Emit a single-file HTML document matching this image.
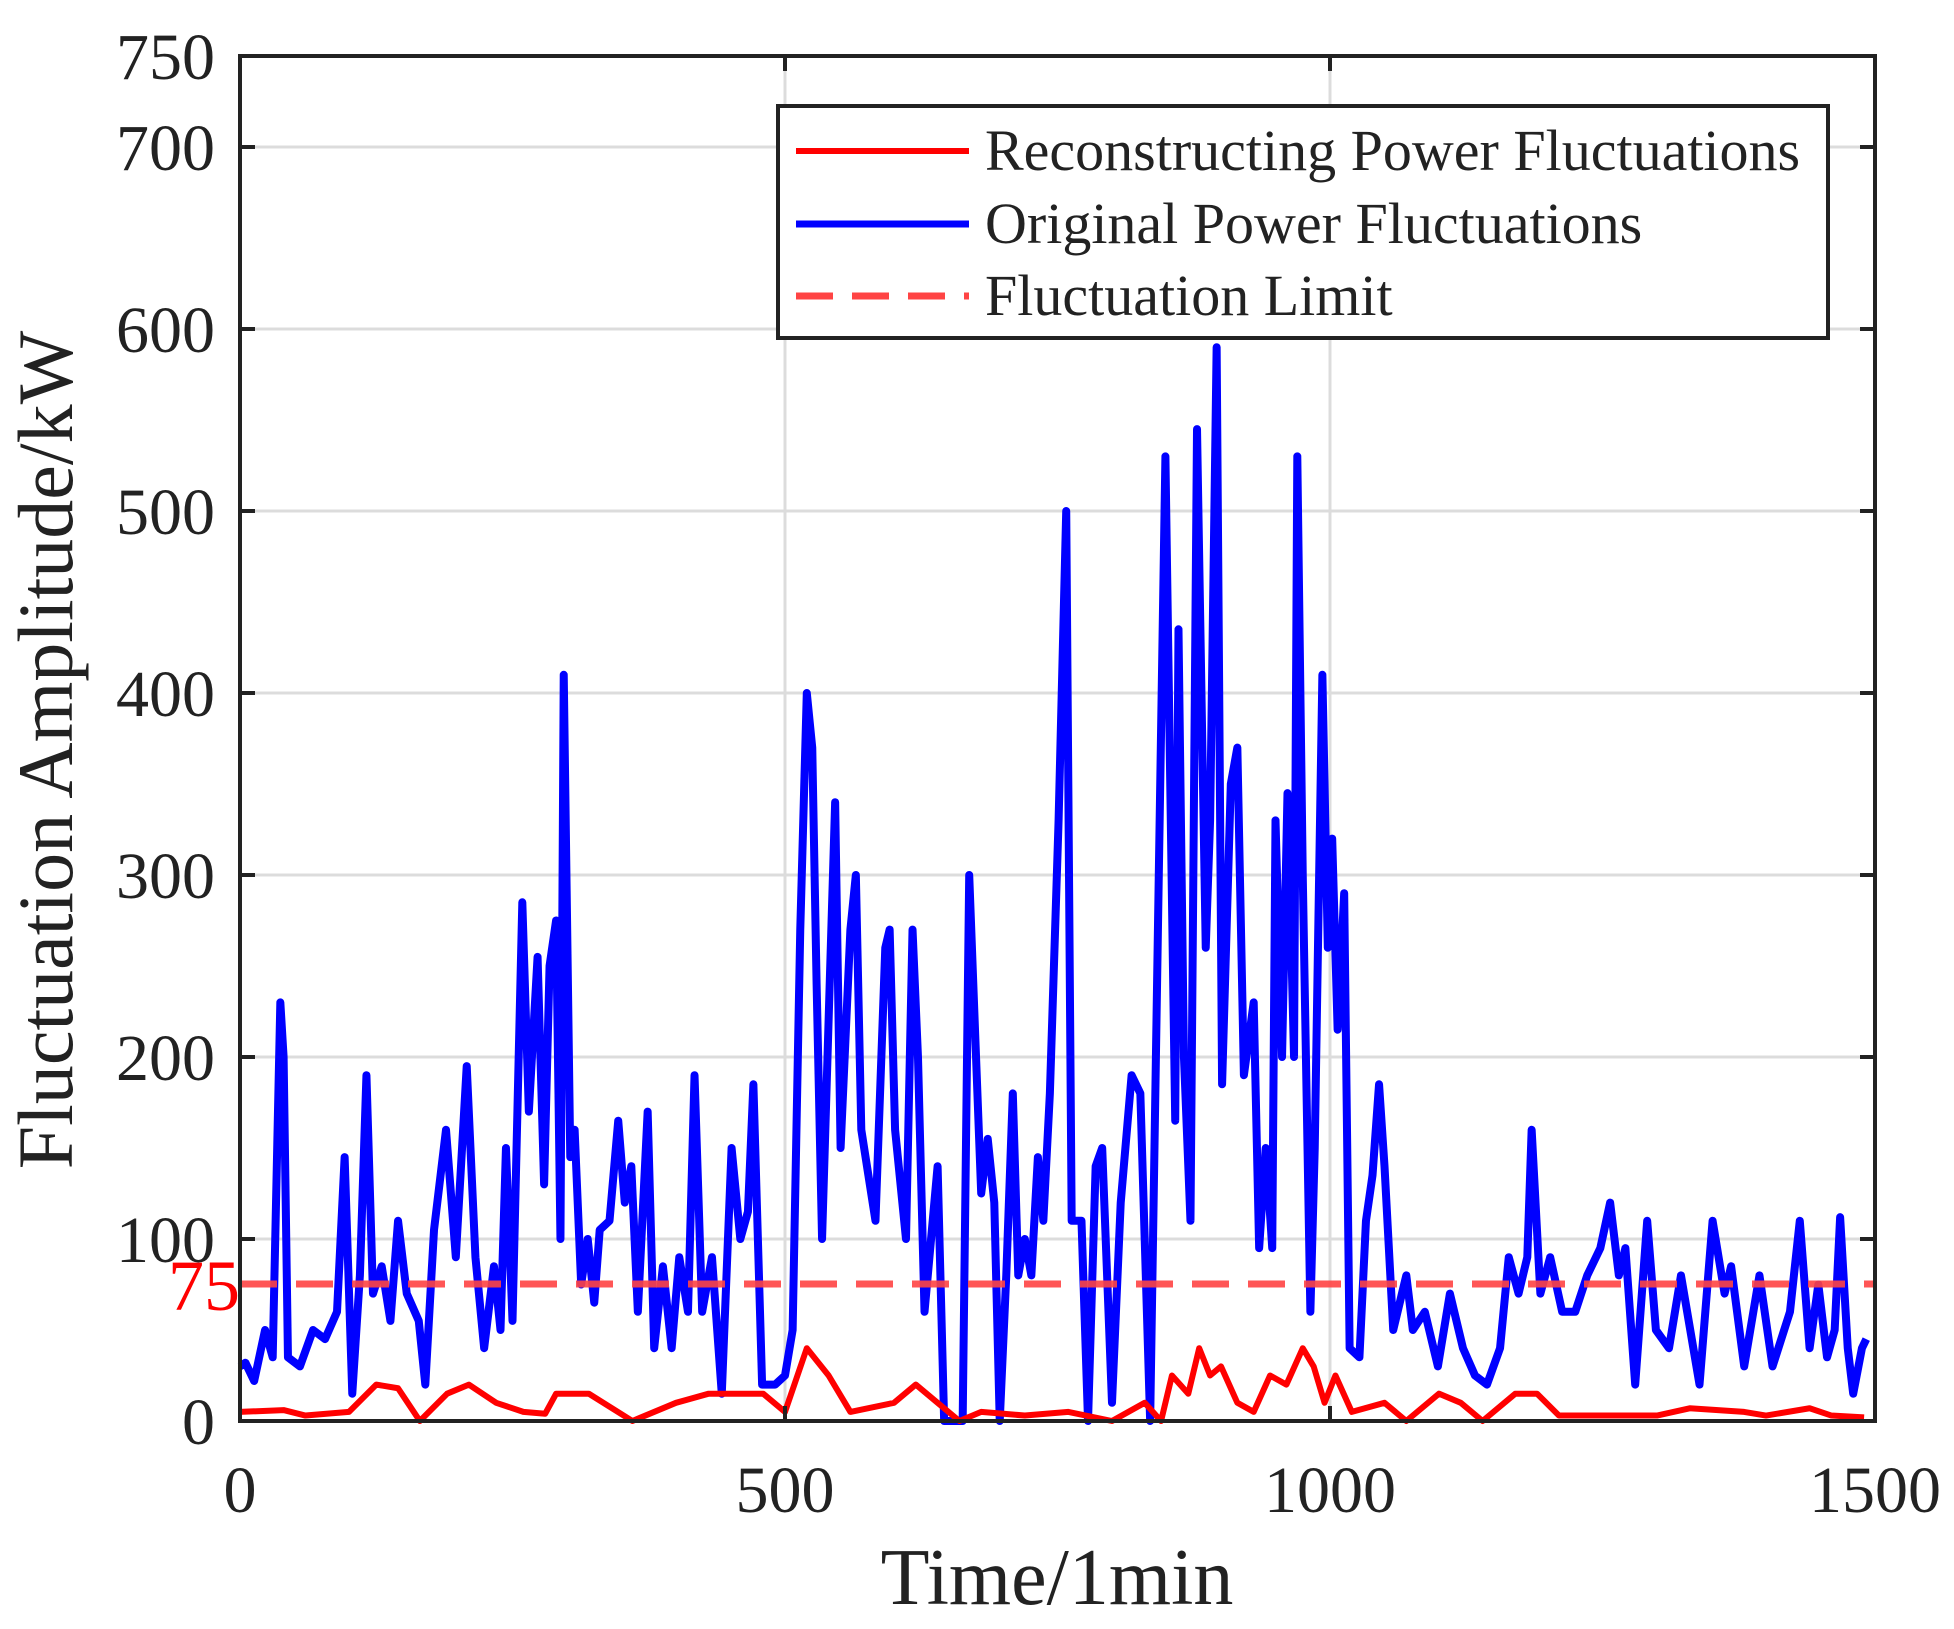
<!DOCTYPE html>
<html><head><meta charset="utf-8"><style>
html,body{margin:0;padding:0;background:#fff}
svg{display:block}
text{font-family:"Liberation Serif",serif;fill:#222}
</style></head><body>
<svg width="1954" height="1629" viewBox="0 0 1954 1629" xmlns="http://www.w3.org/2000/svg">
<g stroke="#dcdcdc" stroke-width="3">
<line x1="240" x2="1875" y1="1239" y2="1239"/><line x1="240" x2="1875" y1="1057" y2="1057"/>
<line x1="240" x2="1875" y1="875" y2="875"/><line x1="240" x2="1875" y1="693" y2="693"/>
<line x1="240" x2="1875" y1="511" y2="511"/><line x1="240" x2="1875" y1="329" y2="329"/>
<line x1="240" x2="1875" y1="147" y2="147"/>
<line x1="785" x2="785" y1="56" y2="1421"/><line x1="1330" x2="1330" y1="56" y2="1421"/>
</g>
<g transform="translate(240,1421) scale(1.09,-1.82)" fill="none" stroke-linejoin="round">
<polyline vector-effect="non-scaling-stroke" stroke="#0000ff" stroke-width="8" points="0,30 5,32 13,22 23,50 30,35 37,230 40,200 44,35 55,30 67,50 78,45 89,60 96,145 103,15 110,80 116,190 122,70 130,85 138,55 145,110 153,70 164,55 170,20 178,105 189,160 198,90 208,195 216,90 224,40 233,85 239,50 244,150 250,55 259,285 265,170 273,255 279,130 284,250 290,275 294,100 297,410 303,145 307,160 313,75 319,100 325,65 330,105 339,110 347,165 353,120 359,140 365,60 374,170 380,40 388,85 396,40 403,90 411,60 417,190 424,60 433,90 442,15 451,150 459,100 466,115 471,185 479,20 491,20 500,25 507,50 514,270 520,400 525,370 529,240 534,100 546,340 551,150 560,270 565,300 570,160 583,110 592,260 596,270 601,160 611,100 617,270 622,200 628,60 640,140 646,0 663,0 669,300 674,220 680,125 686,155 692,120 697,0 703,80 709,180 714,80 720,100 726,80 732,145 737,110 743,180 751,330 758,500 763,110 772,110 778,0 785,140 791,150 800,10 808,120 818,190 826,180 835,0 849,530 858,165 861,435 866,200 872,110 878,545 886,260 890,330 896,590 901,185 909,350 915,370 921,190 930,230 935,95 941,150 947,95 950,330 956,200 961,345 967,200 970,530 975,300 982,60 986,150 993,410 998,260 1002,320 1007,215 1013,290 1018,40 1027,35 1033,110 1039,135 1045,185 1050,140 1058,50 1070,80 1076,50 1087,60 1099,30 1110,70 1122,40 1133,25 1144,20 1156,40 1164,90 1173,70 1181,90 1185,160 1193,70 1202,90 1213,60 1225,60 1236,80 1248,95 1257,120 1265,80 1271,95 1280,20 1291,110 1299,50 1311,40 1322,80 1339,20 1351,110 1362,70 1368,85 1380,30 1394,80 1406,30 1422,60 1431,110 1440,40 1448,75 1456,35 1463,50 1468,112 1475,40 1480,15 1488,40 1492,45"/>
<polyline vector-effect="non-scaling-stroke" stroke="#ff0000" stroke-width="6" points="0,5 40,6 60,3 100,5 125,20 145,18 165,0 190,15 210,20 235,10 260,5 280,4 290,15 320,15 360,0 400,10 430,15 480,15 500,5 520,40 540,25 560,5 600,10 620,20 640,10 660,0 680,5 720,3 760,5 800,0 830,10 845,0 855,25 870,15 880,40 890,25 900,30 915,10 930,5 945,25 960,20 975,40 985,30 995,10 1005,25 1020,5 1050,10 1070,0 1100,15 1120,10 1140,0 1170,15 1190,15 1210,3 1250,3 1300,3 1330,7 1380,5 1400,3 1440,7 1460,3 1490,2"/>
</g>
<line x1="240" x2="1875" y1="1284" y2="1284" stroke="#ff4444" stroke-opacity="0.9" stroke-width="7" stroke-dasharray="37,19"/>
<text x="240" y="1310" text-anchor="end" font-size="72" style="fill:#ff0000">75</text>
<g stroke="#222" stroke-width="4">
<line x1="240" x2="255" y1="1239" y2="1239"/><line x1="240" x2="255" y1="1057" y2="1057"/><line x1="240" x2="255" y1="875" y2="875"/><line x1="240" x2="255" y1="693" y2="693"/><line x1="240" x2="255" y1="511" y2="511"/><line x1="240" x2="255" y1="329" y2="329"/><line x1="240" x2="255" y1="147" y2="147"/>
<line x1="1860" x2="1875" y1="1239" y2="1239"/><line x1="1860" x2="1875" y1="1057" y2="1057"/><line x1="1860" x2="1875" y1="875" y2="875"/><line x1="1860" x2="1875" y1="693" y2="693"/><line x1="1860" x2="1875" y1="511" y2="511"/><line x1="1860" x2="1875" y1="329" y2="329"/><line x1="1860" x2="1875" y1="147" y2="147"/>
<line x1="785" x2="785" y1="1421" y2="1406"/><line x1="1330" x2="1330" y1="1421" y2="1406"/>
<line x1="785" x2="785" y1="56" y2="71"/><line x1="1330" x2="1330" y1="56" y2="71"/>
</g>
<rect x="240" y="56" width="1635" height="1365" fill="none" stroke="#222" stroke-width="4"/>
<g font-size="66" text-anchor="end">
<text x="215" y="1444">0</text><text x="215" y="1262">100</text><text x="215" y="1080">200</text><text x="215" y="898">300</text><text x="215" y="716">400</text><text x="215" y="534">500</text><text x="215" y="352">600</text><text x="215" y="170">700</text><text x="215" y="79">750</text>
</g>
<g font-size="66" text-anchor="middle">
<text x="240" y="1512">0</text><text x="785" y="1512">500</text><text x="1330" y="1512">1000</text><text x="1875" y="1512">1500</text>
</g>
<text x="1057" y="1604" font-size="80" text-anchor="middle">Time/1min</text>
<text transform="translate(72,750) rotate(-90)" font-size="78" text-anchor="middle">Fluctuation Amplitude/kW</text>
<rect x="778" y="106" width="1050" height="232" fill="#fff" stroke="#222" stroke-width="4"/>
<line x1="796" x2="969" y1="151" y2="151" stroke="#ff0000" stroke-width="6"/>
<line x1="796" x2="969" y1="224" y2="224" stroke="#0000ff" stroke-width="7"/>
<line x1="796" x2="969" y1="296" y2="296" stroke="#ff4444" stroke-width="7" stroke-dasharray="37,19"/>
<g font-size="58">
<text x="985" y="170">Reconstructing Power Fluctuations</text>
<text x="985" y="243">Original Power Fluctuations</text>
<text x="985" y="315">Fluctuation Limit</text>
</g>
</svg>
</body></html>
